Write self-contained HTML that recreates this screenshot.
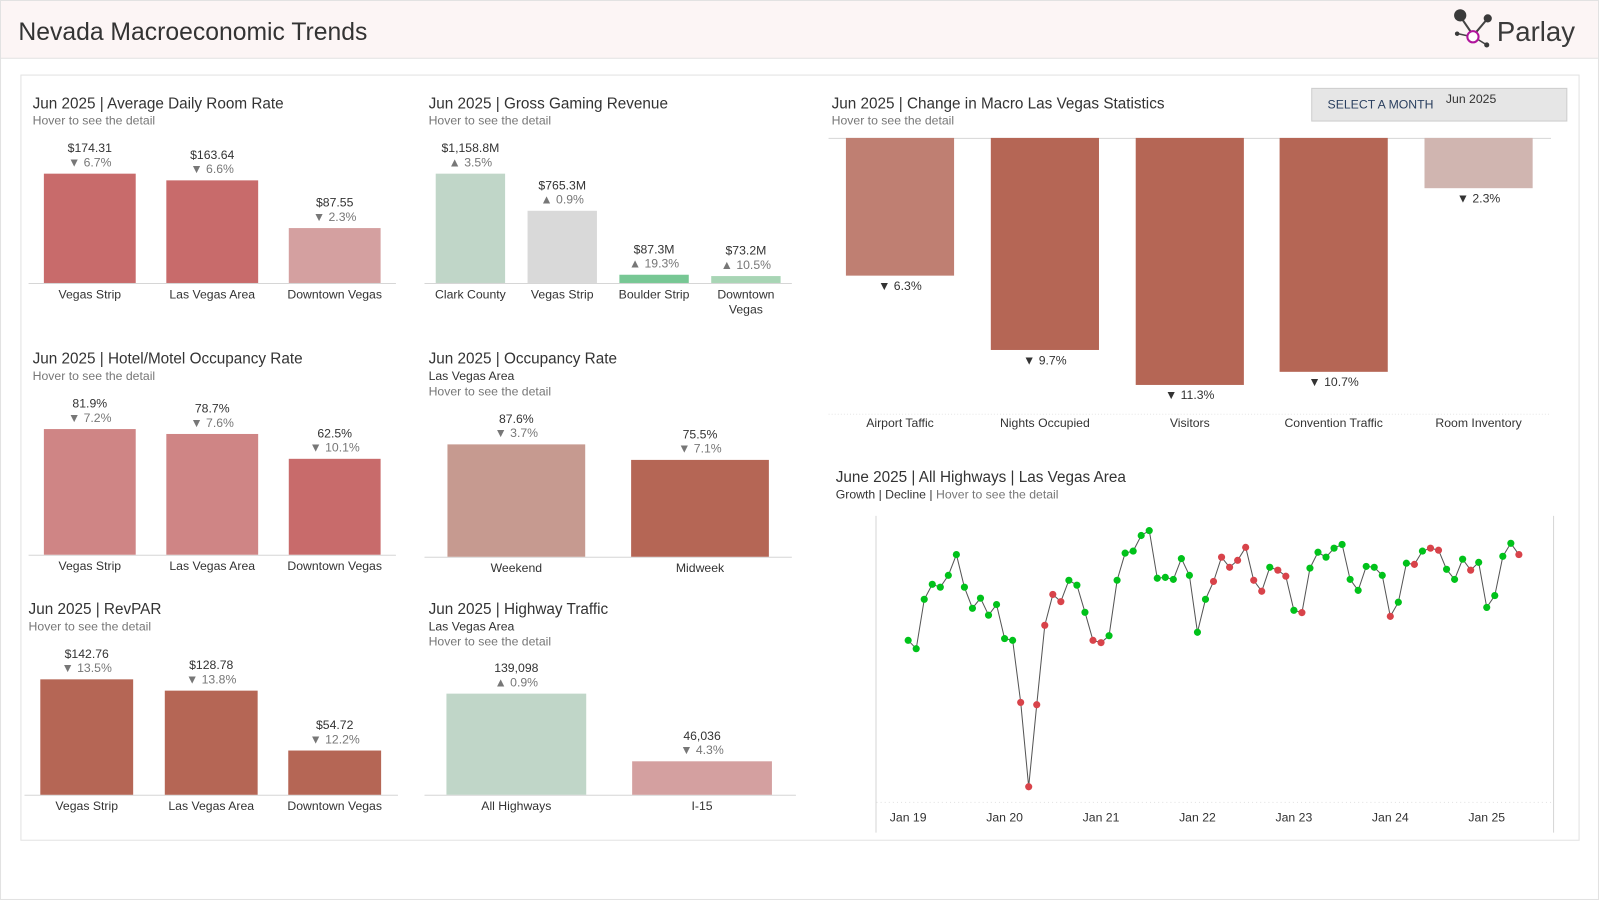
<!DOCTYPE html>
<html><head><meta charset="utf-8">
<style>
html,body{margin:0;padding:0;background:#fff;}
svg{display:block;font-family:"Liberation Sans",Arial,sans-serif;}
</style></head>
<body>
<svg id="dash" width="1600" height="900" viewBox="0 0 1568 881" preserveAspectRatio="none" xmlns="http://www.w3.org/2000/svg">
  <rect x="0.5" y="0.5" width="1566" height="880" fill="#fff" stroke="#e2e2e2"/>
  <g>
    <rect x="1" y="1" width="1565" height="56" fill="#fcf5f5"/>
    <line x1="1" y1="57" x2="1566" y2="57" stroke="#e2e2e2"/>
    <text x="18" y="39" font-size="24" fill="#333" textLength="342" lengthAdjust="spacingAndGlyphs">Nevada Macroeconomic Trends</text>
    <g>
      <line x1="1431" y1="16" x2="1444" y2="35" stroke="#444" stroke-width="2"/>
      <line x1="1458" y1="18" x2="1447" y2="31" stroke="#444" stroke-width="2"/>
      <line x1="1429" y1="33" x2="1438" y2="35" stroke="#444" stroke-width="1.5"/>
      <line x1="1449" y1="39" x2="1457" y2="44" stroke="#444" stroke-width="1.5"/>
      <circle cx="1431" cy="15" r="6" fill="#3a3a3a"/>
      <circle cx="1458" cy="18" r="4" fill="#3a3a3a"/>
      <circle cx="1428" cy="33" r="2.2" fill="#3a3a3a"/>
      <circle cx="1457" cy="44" r="2.5" fill="#3a3a3a"/>
      <circle cx="1443.5" cy="36" r="5.5" fill="#fff" stroke="#b0159c" stroke-width="2"/>
      <text x="1467" y="40" font-size="27" fill="#3a3a3a">Parlay</text>
    </g>
  </g>
  <rect x="20.5" y="73.5" width="1527" height="749" fill="#fff" stroke="#e2e2e2"/>
  <g>
    <rect x="1285.5" y="86.5" width="250" height="32" fill="#e6e6e6" stroke="#cdcdcd"/>
    <text x="1301" y="106" font-size="12" fill="#2a3f5f">SELECT A MONTH</text>
    <text x="1417" y="101" font-size="12" fill="#333">Jun 2025</text>
  </g>
  <g id="charts"></g>
</svg>
<script>
// ---------- Data ----------
const adrCats = ["Vegas Strip","Las Vegas Area","Downtown Vegas"];
const adrValues = [174.31,163.64,87.55];
const adrChanges = [-6.7,-6.6,-2.3];

const ggrCats = ["Clark County","Vegas Strip","Boulder Strip","Downtown|Vegas"];
const ggrValues = [1158.8,765.3,87.3,73.2];
const ggrChanges = [3.5,0.9,19.3,10.5];

const hotelOccCats = ["Vegas Strip","Las Vegas Area","Downtown Vegas"];
const hotelOccValues = [81.9,78.7,62.5];
const hotelOccChanges = [-7.2,-7.6,-10.1];

const occRateCats = ["Weekend","Midweek"];
const occRateValues = [87.6,75.5];
const occRateChanges = [-3.7,-7.1];

const revparCats = ["Vegas Strip","Las Vegas Area","Downtown Vegas"];
const revparValues = [142.76,128.78,54.72];
const revparChanges = [-13.5,-13.8,-12.2];

const hwyCats = ["All Highways","I-15"];
const hwyValues = [139098,46036];
const hwyChanges = [0.9,-4.3];

const macroCats = ["Airport Taffic","Nights Occupied","Visitors","Convention Traffic","Room Inventory"];
const macroChanges = [-6.3,-9.7,-11.3,-10.7,-2.3];

const trafficTickLabels = ["Jan 19","Jan 20","Jan 21","Jan 22","Jan 23","Jan 24","Jan 25"];
const trafficValues = [116.2,113.3,130.4,135.6,134.6,138.7,145.9,134.6,127.3,130.8,124.9,128.6,
 116.8,116.2,94.7,65.5,93.9,121.4,132.1,129.6,137.0,135.3,125.9,116.2,
 115.4,117.8,137.0,146.4,147.1,152.5,154.2,137.7,138.0,137.3,144.5,138.7,
 119.0,130.4,136.6,145.0,141.5,143.9,148.4,137.0,133.2,141.5,140.5,138.4,
 126.6,125.8,141.2,146.7,145.0,148.1,149.4,137.3,133.5,141.8,141.5,138.7,
 124.5,129.4,142.9,142.5,147.1,148.1,147.4,140.8,137.3,144.3,140.5,143.2,
 127.6,131.7,145.3,149.8,145.9];
const trafficGrowth = [1,1,1,1,1,1,1,1,1,1,1,1, 1,1,0,0,0,0,0,0,1,1,1,0, 0,1,1,1,1,1,1,1,1,1,1,1,
 1,1,0,0,0,0,0,0,0,1,0,0, 1,0,1,1,1,1,1,1,1,1,1,1, 0,1,1,0,1,0,0,1,1,1,0,1, 1,1,1,1,0];

// ---------- Helpers ----------
const NS = "http://www.w3.org/2000/svg";
const root = document.getElementById("charts");
function mk(tag, attrs, parent, txt){
  const e = document.createElementNS(NS, tag);
  for (const k in attrs) e.setAttribute(k, attrs[k]);
  if (txt !== undefined) e.textContent = txt;
  (parent || root).appendChild(e);
  return e;
}
function arrow(c){ return (c >= 0 ? "\u25B2 " : "\u25BC ") + Math.abs(c).toFixed(1) + "%"; }

function titles(g, x, y, title, subs){
  const t = mk("text", {x:x, y:y+10, "font-size":15, fill:"#333"}, g, title);
  
  
  subs.forEach((s, i) => {
    const st = mk("text", {x:x, y:y+26+i*15, "font-size":12, fill:s[1]}, g, s[0]);
    
    
  });
}

function barChart(o){
  const g = mk("g", {});
  
  
  titles(g, o.tx, o.ty, o.title, o.subs);
  const mx = Math.max(...o.values);
  const y = v => o.base - v / mx * o.maxH;
  mk("line", {x1:o.ax0, x2:o.ax1, y1:o.base+0.5, y2:o.base+0.5, stroke:"#d6d6d6"}, g);
  o.cats.forEach((c, i) => {
    const cx = o.centers[i];
    const top = y(o.values[i]);
    const r = mk("rect", {x:cx-o.bw/2, y:top, width:o.bw, height:o.base-top, fill:o.colors[i]}, g);
    
    
    const vl = mk("text", {x:cx, y:top-21, "font-size":12, fill:"#333", "text-anchor":"middle"}, g, o.fmt(o.values[i]));
    
    
    const cl = mk("text", {x:cx, y:top-7, "font-size":12, fill:"#777", "text-anchor":"middle"}, g, arrow(o.changes[i]));
    
    
    c.split("|").forEach((part, k) => {
      const lt = mk("text", {x:cx, y:o.base+15+k*15, "font-size":12, fill:"#333", "text-anchor":"middle"}, g, part);
      
      
    });
  });
}

const HOVER = ["Hover to see the detail", "#777"];
const LVA = ["Las Vegas Area", "#333"];

barChart({name:"adr-chart", tx:32, ty:96, title:"Jun 2025 | Average Daily Room Rate", subs:[HOVER],
  cats:adrCats, values:adrValues, changes:adrChanges, base:277, maxH:107, ax0:28, ax1:388,
  centers:[88,208,328], bw:90, colors:["#c86b6b","#c86b6b","#d4a0a0"], fmt:v=>"$"+v.toFixed(2)});

barChart({name:"ggr-chart", tx:420, ty:96, title:"Jun 2025 | Gross Gaming Revenue", subs:[HOVER],
  cats:ggrCats, values:ggrValues, changes:ggrChanges, base:277, maxH:107, ax0:416, ax1:776,
  centers:[461,551,641,731], bw:68, colors:["#c0d6c8","#d9d9d9","#77c794","#a8d5b5"],
  fmt:v=>"$"+v.toLocaleString("en-US",{minimumFractionDigits:1,maximumFractionDigits:1})+"M"});

barChart({name:"hotel-occupancy-chart", tx:32, ty:346, title:"Jun 2025 | Hotel/Motel Occupancy Rate", subs:[HOVER],
  cats:hotelOccCats, values:hotelOccValues, changes:hotelOccChanges, base:543, maxH:123, ax0:28, ax1:388,
  centers:[88,208,328], bw:90, colors:["#cf8585","#cf8585","#c86b6b"], fmt:v=>v.toFixed(1)+"%"});

barChart({name:"occupancy-rate-chart", tx:420, ty:346, title:"Jun 2025 | Occupancy Rate", subs:[LVA, HOVER],
  cats:occRateCats, values:occRateValues, changes:occRateChanges, base:545, maxH:110, ax0:416, ax1:776,
  centers:[506,686], bw:135, colors:["#c69a90","#b56655"], fmt:v=>v.toFixed(1)+"%"});

barChart({name:"revpar-chart", tx:28, ty:591, title:"Jun 2025 | RevPAR", subs:[HOVER],
  cats:revparCats, values:revparValues, changes:revparChanges, base:778, maxH:113, ax0:24, ax1:390,
  centers:[85,207,328], bw:91, colors:["#b56655","#b56655","#b56655"], fmt:v=>"$"+v.toFixed(2)});

barChart({name:"highway-traffic-chart", tx:420, ty:591, title:"Jun 2025 | Highway Traffic", subs:[LVA, HOVER],
  cats:hwyCats, values:hwyValues, changes:hwyChanges, base:778, maxH:99, ax0:416, ax1:780,
  centers:[506,688], bw:137, colors:["#c0d6c8","#d4a0a0"], fmt:v=>v.toLocaleString("en-US")});

// ---------- Macro change chart ----------
(function(){
  const g = mk("g", {});
  
  
  titles(g, 815, 96, "Jun 2025 | Change in Macro Las Vegas Statistics", [HOVER]);
  const top = 135, pxPerPct = 21.4;
  const yv = v => top + Math.abs(Math.min(v,0)) * pxPerPct;
  const centers = [882,1024,1166,1307,1449];
  const colors = ["#bf7f72","#b56655","#b56655","#b56655","#d0b5b0"];
  mk("line", {x1:812, x2:1520, y1:top+0.5, y2:top+0.5, stroke:"#d6d6d6"}, g);
  mk("line", {x1:812, x2:1520, y1:405.5, y2:405.5, stroke:"#e6e6e6", "stroke-dasharray":"1,2"}, g);
  macroCats.forEach((c, i) => {
    const yb = yv(macroChanges[i]);
    const r = mk("rect", {x:centers[i]-53, y:top, width:106, height:yb-top, fill:colors[i]}, g);
    
    
    const cl = mk("text", {x:centers[i], y:yb+14, "font-size":12, fill:"#333", "text-anchor":"middle"}, g, arrow(macroChanges[i]));
    
    
    const lt = mk("text", {x:centers[i], y:418, "font-size":12, fill:"#333", "text-anchor":"middle"}, g, c);
    
    
  });
})();

// ---------- Highway line chart ----------
(function(){
  const g = mk("g", {});
  
  
  const t = mk("text", {x:819, y:472, "font-size":15, fill:"#333"}, g, "June 2025 | All Highways | Las Vegas Area");
  
  
  const st = mk("text", {x:819, y:488, "font-size":12, fill:"#333"}, g);
  
  
  mk("tspan", {}, st, "Growth | Decline | ");
  mk("tspan", {fill:"#777"}, st, "Hover to see the detail");

  const x0 = 890, step = 7.875;
  const xs = i => x0 + i * step;
  const y0 = 785.7, y1 = 503, vmin = 60, vmax = 160;
  const ys = v => y0 - (v - vmin) / (vmax - vmin) * (y0 - y1);

  mk("line", {x1:858.5, x2:858.5, y1:505, y2:815, stroke:"#d6d6d6"}, g);
  mk("line", {x1:1522.5, x2:1522.5, y1:505, y2:815, stroke:"#d6d6d6"}, g);
  mk("line", {x1:859, x2:1522, y1:785.5, y2:785.5, stroke:"#e4e4e4", "stroke-dasharray":"1,3"}, g);
  trafficTickLabels.forEach((lab, k) => {
    const tx = mk("text", {x:xs(k*12), y:804, "font-size":12, fill:"#333", "text-anchor":"middle"}, g, lab);
    
    
  });
  const pts = trafficValues.map((v, i) => xs(i).toFixed(1) + "," + ys(v).toFixed(1)).join(" ");
  const line = mk("polyline", {points:pts, fill:"none", stroke:"#555", "stroke-width":1}, g);
  
  
  trafficValues.forEach((v, i) => {
    const c = mk("circle", {cx:xs(i), cy:ys(v), r:3.5, fill: trafficGrowth[i] ? "#00c21a" : "#d8434a"}, g);
    
    
  });
})();
</script>
</body></html>
